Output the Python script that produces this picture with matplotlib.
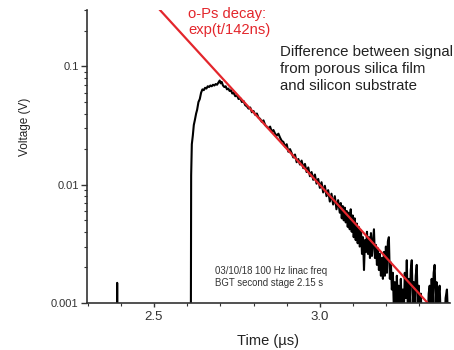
import matplotlib
matplotlib.use('Agg')
import matplotlib.pyplot as plt
from matplotlib.ticker import LogLocator, NullFormatter, MultipleLocator, FixedLocator, FixedFormatter

plt.rcParams['font.family'] = ['Liberation Sans', 'DejaVu Sans']

# measured trace: time (us) and voltage (V); values below 0.001 sit under the axis
time_us = [
    2.300, 2.388, 2.389, 2.390, 2.610,
    2.611, 2.612, 2.614, 2.617, 2.620, 2.623, 2.627, 2.630, 2.634, 2.638,
    2.642, 2.646, 2.650, 2.654, 2.658, 2.662, 2.666, 2.670, 2.674, 2.678,
    2.682, 2.686, 2.690, 2.694, 2.698, 2.701, 2.704, 2.708, 2.712, 2.716,
    2.720, 2.724, 2.728, 2.732, 2.736, 2.740, 2.745, 2.750, 2.755, 2.760,
    2.765, 2.770, 2.775, 2.780, 2.785, 2.790, 2.795, 2.800, 2.805, 2.810,
    2.815, 2.820, 2.825, 2.830, 2.835, 2.840, 2.845, 2.850, 2.855, 2.860,
    2.865, 2.870, 2.875, 2.880, 2.885, 2.890, 2.895, 2.900, 2.905, 2.910,
    2.915, 2.920, 2.925, 2.930, 2.935, 2.940, 2.945, 2.950, 2.955, 2.960,
    2.965, 2.970, 2.975, 2.980, 2.985, 2.990, 2.995, 3.000, 3.005, 3.010,
    3.015, 3.020, 3.025, 3.030, 3.035, 3.040, 3.045, 3.050, 3.055, 3.060,
    3.063, 3.066, 3.069, 3.072, 3.075, 3.078, 3.081, 3.084, 3.087, 3.090,
    3.093, 3.096, 3.099, 3.102, 3.105, 3.108, 3.111, 3.114, 3.117, 3.120,
    3.124, 3.127, 3.130, 3.133, 3.136, 3.139, 3.142, 3.145, 3.148, 3.151,
    3.154, 3.157, 3.160, 3.163, 3.166, 3.169, 3.172, 3.175, 3.178, 3.181,
    3.184, 3.187, 3.190, 3.193, 3.196, 3.199, 3.202, 3.205, 3.208, 3.211,
    3.214, 3.217, 3.220, 3.223, 3.226, 3.229, 3.232, 3.235, 3.238, 3.241,
    3.244, 3.247, 3.250, 3.253, 3.256, 3.259, 3.262, 3.265, 3.268, 3.271,
    3.274, 3.277, 3.280, 3.283, 3.286, 3.289, 3.292, 3.295, 3.298, 3.301,
    3.304, 3.307, 3.310, 3.313, 3.316, 3.319, 3.322, 3.325, 3.328, 3.331,
    3.334, 3.337, 3.340, 3.343, 3.346, 3.349, 3.352, 3.355, 3.358, 3.361,
    3.364, 3.367, 3.370, 3.373, 3.376, 3.379, 3.383, 3.386, 3.389, 3.392,
]
voltage = [
    0.0005, 0.0005, 0.00148, 0.0005, 0.0005,
    0.0005, 0.012, 0.022, 0.026, 0.032, 0.035, 0.040, 0.043, 0.050, 0.053,
    0.060, 0.064, 0.063, 0.066, 0.065, 0.068, 0.067, 0.069, 0.068, 0.070,
    0.069, 0.071, 0.070, 0.073, 0.076, 0.072, 0.074, 0.069, 0.067, 0.068,
    0.064, 0.065, 0.062, 0.063, 0.059, 0.060, 0.056, 0.057, 0.053, 0.054,
    0.050, 0.051, 0.047, 0.046, 0.044, 0.045, 0.041, 0.042, 0.039, 0.040,
    0.037, 0.036, 0.034, 0.035, 0.032, 0.031, 0.030, 0.031, 0.028, 0.029,
    0.027, 0.026, 0.027, 0.025, 0.0235, 0.023, 0.021, 0.022, 0.019, 0.020,
    0.0185, 0.017, 0.018, 0.0155, 0.0165, 0.0148, 0.0160, 0.0138, 0.0150, 0.0128,
    0.0140, 0.0118, 0.0128, 0.0110, 0.0122, 0.0102, 0.0112, 0.0094, 0.0105, 0.0086,
    0.0098, 0.0080, 0.0090, 0.0072, 0.0084, 0.0068, 0.0080, 0.0062, 0.0074, 0.0058,
    0.0070, 0.0052, 0.0066, 0.0050, 0.0064, 0.0048, 0.0060, 0.0044, 0.0058, 0.0042,
    0.0062, 0.0040, 0.0055, 0.0036, 0.0052, 0.0034, 0.0047, 0.0032, 0.0044, 0.0030,
    0.0041, 0.0026, 0.0036, 0.0019, 0.0034, 0.0027, 0.0040, 0.0026, 0.0036, 0.0024,
    0.0039, 0.0025, 0.0032, 0.0042, 0.0024, 0.0031, 0.0021, 0.0029, 0.0019, 0.0026,
    0.0017, 0.0024, 0.0016, 0.0027, 0.0017, 0.0030, 0.0018, 0.0033, 0.0036, 0.0016,
    0.0022, 0.0013, 0.0018, 0.0009, 0.0015, 0.0008, 0.0017, 0.0010, 0.0014, 0.0008,
    0.0016, 0.0009, 0.0013, 0.0008, 0.0018, 0.0011, 0.0023, 0.0009, 0.0016, 0.0010,
    0.0019, 0.0023, 0.0010, 0.0015, 0.0009, 0.0017, 0.0021, 0.0010, 0.0014, 0.0008,
    0.0012, 0.0008, 0.0009, 0.0007, 0.0008, 0.0007, 0.0009, 0.0007, 0.0012, 0.0014,
    0.0009, 0.0016, 0.0010, 0.0018, 0.0021, 0.0010, 0.0015, 0.0009, 0.0012, 0.0014,
    0.0008, 0.0009, 0.0007, 0.0008, 0.0007, 0.0011, 0.0013, 0.0008, 0.0010, 0.0008,
]

# o-Ps decay fit, exp(-t/142ns): end points
fit_time = [2.518, 3.325]
fit_voltage = [0.30, 0.001]

fig = plt.figure(figsize=(4.54, 3.5), dpi=100)
ax = fig.add_axes([0.1916, 0.1343, 0.7994, 0.8371])

ax.plot(time_us, voltage, color='black', lw=1.5)
ax.plot(fit_time, fit_voltage, color='#e3262c', lw=1.6)

ax.set_yscale('log')
ax.set_xlim(2.298, 3.392)
ax.set_ylim(0.001, 0.30)

ax.yaxis.set_major_locator(FixedLocator([0.001, 0.01, 0.1]))
ax.yaxis.set_major_formatter(FixedFormatter(['0.001', '0.01', '0.1']))
ax.yaxis.set_minor_locator(LogLocator(base=10, subs=range(2, 10)))
ax.yaxis.set_minor_formatter(NullFormatter())
ax.xaxis.set_major_locator(FixedLocator([2.5, 3.0]))
ax.xaxis.set_major_formatter(FixedFormatter(['2.5', '3.0']))
ax.xaxis.set_minor_locator(MultipleLocator(0.1))

for s in ['top', 'right']:
    ax.spines[s].set_visible(False)
for s in ['left', 'bottom']:
    ax.spines[s].set_linewidth(1.2)
    ax.spines[s].set_color('#333333')

ax.tick_params(axis='y', which='major', length=4, width=1, labelsize=8, colors='#333333', pad=2)
ax.tick_params(axis='y', which='minor', length=2.5, width=0.8, colors='#333333')
ax.tick_params(axis='x', which='major', length=3, width=1, labelsize=9.5, colors='#333333', pad=3)
ax.tick_params(axis='x', which='minor', length=2, width=0.8, colors='#333333')

ax.set_xlabel('Time (µs)', fontsize=10.5, color='#222222', labelpad=8)
ax.set_ylabel('Voltage (V)', fontsize=8.5, color='#222222')
ax.yaxis.set_label_coords(-0.155, 0.60)

fig.text(188 / 454, 1 - 7 / 350, 'o-Ps decay:\nexp(t/142ns)', color='#e3262c',
         fontsize=10.6, va='top', ha='left', linespacing=1.15)
fig.text(280 / 454, 1 - 45 / 350, 'Difference between signal\nfrom porous silica film\nand silicon substrate',
         color='#222222', fontsize=10.8, va='top', ha='left', linespacing=1.25)
fig.text(215 / 454, 1 - 266 / 350, '03/10/18 100 Hz linac freq\nBGT second stage 2.15 s',
         color='#333333', fontsize=6.9, va='top', ha='left', linespacing=1.25)

fig.savefig('out.png', dpi=100)
